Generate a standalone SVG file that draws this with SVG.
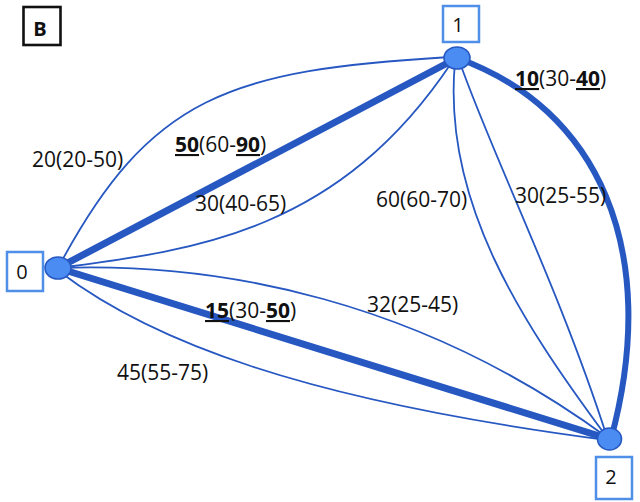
<svg xmlns="http://www.w3.org/2000/svg" width="640" height="502" viewBox="0 0 640 502">
<style>
.e{fill:none;stroke:#2758c2;stroke-linecap:round}
.thin{stroke-width:1.8}
.thick{stroke-width:7}
.mid{stroke-width:6}
.n{fill:#4a8cf2;stroke:#2758c2;stroke-width:1.6}
.box{fill:#fff;stroke:#4f8fe8;stroke-width:2.5}
.lbl{font-family:"Open Sans","Liberation Sans",sans-serif;font-size:21px;fill:#111}
.nl{font-family:"Open Sans","Liberation Sans",sans-serif;font-size:20px;fill:#111;text-anchor:middle}
.b{font-weight:bold;text-decoration:underline}
</style>
<rect x="23.5" y="7" width="37" height="38" fill="#fff" stroke="#111" stroke-width="2.6"/>
<text x="40" y="36" style="font-family:'Open Sans','Liberation Sans',sans-serif;font-size:20px;font-weight:bold;text-anchor:middle" fill="#111">B</text>
<g id="connectors">
<path class="e thin" d="M58,268 C150,95 230,70 450,57"/>
<path class="e thin" d="M58,268 C200,250 340,230 452,62"/>
<path class="e thick" d="M58,268 L457,58"/>
<path class="e thin" d="M455,62 C442,200 520,320 606,436"/>
<path class="e thin" d="M459,60 C490,150 560,290 607,437"/>
<path class="e mid" d="M457,58 C598,108 662,250 611,439"/>
<path class="e thin" d="M58,268 C220,262 420,300 608,438"/>
<path class="e thick" d="M58,268 L609,439"/>
<path class="e thin" d="M60,272 C150,340 300,400 607,440"/>
</g>
<g id="edge-labels">
<text class="lbl" x="32" y="167">20(20-50)</text>
<text class="lbl" x="175" y="152"><tspan class="b">50</tspan>(60-<tspan class="b">90</tspan>)</text>
<text class="lbl" x="195" y="211">30(40-65)</text>
<text class="lbl" x="515" y="86"><tspan class="b">10</tspan>(30-<tspan class="b">40</tspan>)</text>
<text class="lbl" x="376" y="207">60(60-70)</text>
<text class="lbl" x="515" y="203">30(25-55)</text>
<text class="lbl" x="367" y="312">32(25-45)</text>
<text class="lbl" x="205" y="318"><tspan class="b">15</tspan>(30-<tspan class="b">50</tspan>)</text>
<text class="lbl" x="117" y="380">45(55-75)</text>
</g>
<g id="node0">
<ellipse class="n" cx="58" cy="268" rx="13" ry="11"/>
<rect class="box" x="7" y="252" width="36" height="39"/>
<text class="nl" x="22" y="279">0</text>
</g>
<g id="node1">
<ellipse class="n" cx="457" cy="58" rx="13" ry="11"/>
<rect class="box" x="443" y="6" width="36" height="36"/>
<text class="nl" x="458" y="32">1</text>
</g>
<g id="node2">
<ellipse class="n" cx="609.5" cy="439" rx="12" ry="11"/>
<rect class="box" x="596" y="457" width="36" height="42"/>
<text class="nl" x="611" y="484">2</text>
</g>
</svg>
